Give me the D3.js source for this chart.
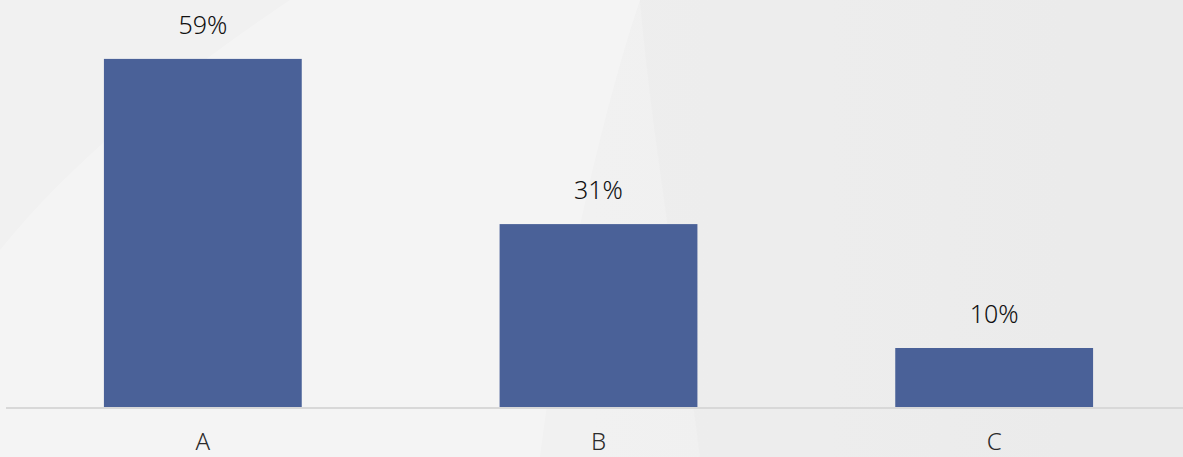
<!DOCTYPE html>
<html>
<head>
<meta charset="utf-8">
<script src="https://cdn.jsdelivr.net/npm/d3@7"></script>
<style>
  html, body { margin: 0; padding: 0; overflow: hidden; background: #efefef; }
  svg { display: block; }
  text { font-family: "Noto Sans", "Open Sans", sans-serif; font-weight: 300; }
</style>
</head>
<body>
<svg id="chart" width="1183" height="457"></svg>
<script>
const categories = ["A", "B", "C"];
const values = [59, 31, 10];
const valueLabels = ["59%", "31%", "10%"];

const W = 1183, H = 457;
const svg = d3.select("#chart");

// background
const defs = svg.append("defs");
const bg = defs.append("linearGradient").attr("id", "bg").attr("x1", "0").attr("x2", "1").attr("y1", "0").attr("y2", "0");
bg.append("stop").attr("offset", "0").attr("stop-color", "#f1f1f1");
bg.append("stop").attr("offset", "0.5").attr("stop-color", "#f1f1f1");
bg.append("stop").attr("offset", "1").attr("stop-color", "#ececec");
svg.append("rect").attr("width", W).attr("height", H).attr("fill", "url(#bg)");
// subtle swooshes
svg.append("path")
  .attr("d", `M0,${H} L0,250 C80,150 200,60 290,0 L640,0 C600,120 560,300 540,${H} Z`)
  .attr("fill", "#ffffff").attr("opacity", 0.25);
svg.append("path")
  .attr("d", `M640,0 L${W},0 L${W},${H} L700,${H} C680,300 650,120 640,0 Z`)
  .attr("fill", "#e8e8e8").attr("opacity", 0.3);

const x = d3.scaleBand().domain(categories).range([5, 1192]).paddingInner(0.5).paddingOuter(0.25);
const y = d3.scaleLinear().domain([0, 60]).range([407, 53]);

// axis
const axisG = svg.append("g").attr("transform", "translate(0,408)")
  .call(d3.axisBottom(x).tickSize(0));
axisG.select(".domain").attr("stroke", "#d8d8d8").attr("stroke-width", 2).attr("d", "M6,0H1183");
axisG.selectAll(".tick text")
  .attr("font-size", 24).attr("fill", "#2b2b2b")
  .style("font-family", '"Noto Sans", sans-serif').style("font-weight", 300)
  .attr("dy", "0").attr("y", 42);

// bars
svg.append("g").selectAll("rect").data(values).join("rect")
  .attr("x", (d, i) => x(categories[i]))
  .attr("width", x.bandwidth())
  .attr("y", d => y(d))
  .attr("height", d => y(0) - y(d))
  .attr("fill", "#4a6198");

// value labels
svg.append("g").selectAll("text").data(values).join("text")
  .attr("x", (d, i) => x(categories[i]) + x.bandwidth() / 2)
  .attr("y", d => y(d) - 25)
  .attr("text-anchor", "middle")
  .attr("font-size", 25)
  .attr("fill", "#111111")
  .text((d, i) => valueLabels[i]);
</script>
</body>
</html>
